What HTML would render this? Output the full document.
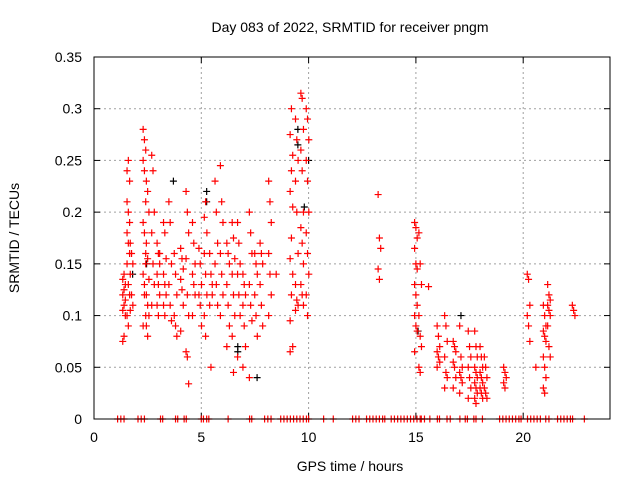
<!DOCTYPE html>
<html><head><meta charset="utf-8"><style>
body{margin:0;background:#fff}
svg{display:block;font-family:"Liberation Sans",sans-serif}
</style></head><body>
<svg id="chart" width="640" height="480" viewBox="0 0 640 480">
<rect width="640" height="480" fill="#fff"/>
<text x="350" y="32" text-anchor="middle" font-size="14">Day 083 of 2022, SRMTID for receiver pngm</text>
<text x="350" y="471" text-anchor="middle" font-size="14">GPS time / hours</text>
<text transform="translate(19,238) rotate(-90)" text-anchor="middle" font-size="14">SRMTID / TECUs</text>
<g id="grid"></g>
<g id="ticks"></g>
<g id="marks"></g>
<rect x="94" y="57" width="516" height="362" fill="none" stroke="#000" stroke-width="1"/>
</svg>
<script>
const xTicks=[0,5,10,15,20];
const yTicks=[0,0.05,0.1,0.15,0.2,0.25,0.3,0.35];
const yTickLabels=["0","0.05","0.1","0.15","0.2","0.25","0.3","0.35"];
const redGroupT=[1.4,1.6,1.75,2.35,2.5,2.75,3.0,3.3,3.55,3.8,4.1,4.35,4.65,4.95,5.2,5.45,5.7,5.95,6.25,6.5,6.75,7.0,7.3,7.55,7.8,8.2,8.55,9.2,9.45,9.7,9.95,13.3,15.0,15.2,15.65,16.05,16.4,16.8,17.1,17.5,17.8,18.05,18.25,19.15,20.25,20.65,21.0,21.2,22.35];
const redGroupV=[
[.075,.08,.1,.105,.11,.115,.12,.125,.13,.135,.14],
[.24,.25,.23,.21,.2,.19,.18,.17,.16,.15,.13,.12,.1,.09],
[.17,.16,.15,.14,.12,.11,.105],
[.28,.27,.26,.25,.24,.21,.19,.18,.16,.14,.12,.1,.09,.13,.15],
[.23,.22,.2,.17,.155,.135,.12,.11,.1,.09,.08],
[.255,.24,.2,.18,.15,.13,.11],
[.17,.16,.15,.14,.13,.12,.11,.1,.16],
[.19,.18,.155,.14,.13,.12,.11,.1],
[.21,.19,.15,.13,.11,.095],
[.16,.14,.12,.1,.09,.08],
[.165,.155,.145,.135,.125,.11,.085],
[.22,.2,.18,.155,.12,.1,.065,.06,.034],
[.19,.17,.15,.14,.13,.12,.1],
[.165,.15,.13,.12,.11,.09],
[.195,.21,.18,.16,.14,.12,.1,.08],
[.16,.14,.12,.11,.05,.13],
[.23,.2,.17,.15,.13,.11],
[.245,.21,.19,.16,.14,.12,.1],
[.17,.16,.15,.13,.11,.09,.07],
[.19,.175,.155,.14,.12,.1,.08,.045],
[.19,.17,.15,.14,.12,.1,.06],
[.14,.13,.12,.11,.09,.07,.05],
[.2,.18,.16,.13,.11,.095,.04],
[.16,.15,.14,.12,.1,.08],
[.17,.16,.15,.13,.11,.09],
[.23,.21,.19,.16,.14,.12,.1],
[.14],
[.095,.12,.14,.155,.175,.205,.22,.24,.255,.275,.3,.07,.065],
[.29,.27,.25,.23,.2,.16,.13,.115,.11,.105],
[.315,.31,.28,.26,.24,.2,.185,.17,.15,.13,.12,.11],
[.3,.29,.27,.25,.23,.2,.18,.16,.14,.12,.1],
[.217,.175,.165,.145,.135],
[.19,.185,.175,.165,.15,.145,.13,.12,.11,.1,.09,.085,.065],
[.18,.15,.13,.1,.08,.07,.05,.045],
[.128],
[.09,.08,.07,.065,.06,.055,.05],
[.1,.09,.075,.06,.045,.04,.03],
[.075,.07,.065,.055,.05,.04,.03],
[.09,.06,.05,.045,.04,.035,.025],
[.085,.07,.06,.05,.04,.03,.02],
[.085,.07,.06,.05,.045,.04,.035,.03,.025,.02,.015],
[.07,.06,.05,.045,.04,.035,.03,.025,.02],
[.06,.05,.04,.03,.025,.02],
[.05,.045,.04,.035,.03],
[.14,.135,.11,.1,.09,.075],
[.05],
[.11,.1,.09,.085,.08,.075,.06,.05,.04,.03,.025],
[.13,.12,.115,.11,.105,.1,.09,.07,.06],
[.11,.105,.1]];
const blackT=[1.8,2.45,3.7,5.25,5.25,6.7,6.7,7.6,9.5,9.5,9.8,10.0,15.1,17.1];
const blackV=[.14,.15,.23,.22,.21,.065,.07,.04,.28,.265,.205,.25,.085,.1];
const zeroT=[1.1,1.25,1.4,2.05,2.2,2.35,3.1,3.2,3.8,3.9,4.2,4.3,5.0,5.1,5.25,5.35,6.25,7.25,7.35,7.95,8.1,8.25,8.7,8.85,9.0,9.15,9.3,9.45,9.6,9.75,9.9,10.0,10.7,11.15,12.05,12.2,12.35,12.7,12.85,13.0,13.15,13.3,13.45,13.55,13.85,14.0,14.15,14.3,14.45,14.6,14.75,14.9,15.05,15.2,15.25,15.4,15.65,16.0,16.1,16.45,16.6,17.05,17.3,17.4,17.7,17.8,18.1,18.9,19.05,19.2,19.35,19.5,19.65,19.8,19.9,20.2,20.35,20.5,20.65,20.8,21.05,21.2,21.6,21.75,21.9,22.05,22.2,22.3,22.85];

const NS="http://www.w3.org/2000/svg";
const X=t=>94+t*21.46;
const Y=v=>419-v*1034.3;
function mk(tag,attrs,parent){const e=document.createElementNS(NS,tag);for(const k in attrs)e.setAttribute(k,attrs[k]);parent.appendChild(e);return e;}
const grid=document.getElementById('grid'),ticks=document.getElementById('ticks'),marks=document.getElementById('marks');
xTicks.forEach((t,i)=>{
  const x=X(t);
  if(t>0){const g=mk('line',{x1:x,x2:x,y1:57,y2:419,stroke:'#a0a0a0','stroke-dasharray':'2,3'},grid);
  
  }
  mk('line',{x1:x,x2:x,y1:419,y2:413,stroke:'#000'},ticks);
  mk('line',{x1:x,x2:x,y1:57,y2:63,stroke:'#000'},ticks);
  const l=mk('text',{x:x,y:442,'text-anchor':'middle','font-size':'14'},ticks);
  l.textContent=String(t);
  
  
});
yTicks.forEach((v,i)=>{
  const y=Y(v);
  if(v>0&&v<0.35){const g=mk('line',{x1:94,x2:610,y1:y,y2:y,stroke:'#a0a0a0','stroke-dasharray':'2,3'},grid);
  
  }
  mk('line',{x1:94,x2:100,y1:y,y2:y,stroke:'#000'},ticks);
  mk('line',{x1:604,x2:610,y1:y,y2:y,stroke:'#000'},ticks);
  const l=mk('text',{x:82,y:y+5,'text-anchor':'end','font-size':'14'},ticks);
  l.textContent=yTickLabels[i];
  
  
});
function plus(t,v,col,name){
  const x=X(t),y=Y(v);
  const p=mk('path',{d:`M${x-3.5},${y}h7M${x},${y-3.5}v7`,stroke:col,'stroke-width':'1.2',fill:'none'},marks);
  
  
}
zeroT.forEach(t=>plus(t,0,'#f00','zero-point'));
blackT.forEach((t,i)=>plus(t,blackV[i],'#000','black-point'));
redGroupT.forEach((t,i)=>redGroupV[i].forEach((v,j)=>plus(t+((j%3)-1)*0.06,v,'#f00','red-point')));
</script>
</body></html>
